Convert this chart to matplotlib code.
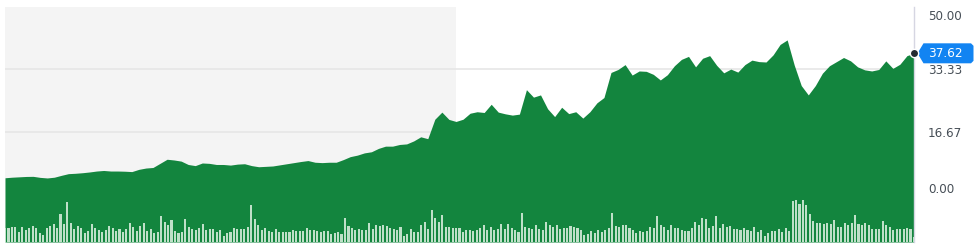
import matplotlib
matplotlib.use("Agg")
import matplotlib.pyplot as plt
import numpy as np
from matplotlib.patches import Polygon
from matplotlib.transforms import ScaledTranslation, Affine2D

# closing price, sampled every ~2 trading days
price = [
    4.35, 4.5, 4.6, 4.7, 4.73, 4.45, 4.3, 4.5, 5.0, 5.45,
    5.55, 5.7, 5.9, 6.15, 6.3, 6.15, 6.15, 6.1, 6.0, 6.6,
    6.95, 7.1, 8.2, 9.3, 9.1, 8.8, 7.9, 7.6, 8.3, 8.2,
    7.9, 7.9, 7.74, 8.0, 8.1, 7.6, 7.3, 7.4, 7.5, 7.8,
    8.1, 8.4, 8.7, 8.95, 8.5, 8.4, 8.5, 8.5, 9.2, 10.0,
    10.4, 11.0, 11.3, 12.2, 12.8, 12.8, 13.25, 13.4, 14.2, 15.3,
    14.8, 20.0, 21.9, 19.95, 19.4, 20.0, 21.6, 22.0, 21.8, 24.0,
    21.9, 21.44, 21.1, 21.36, 27.9, 25.9, 26.5, 22.8, 20.7, 23.2,
    21.5, 22.0, 20.3, 22.0, 24.38, 25.8, 32.5, 33.3, 34.6, 31.8,
    32.9, 32.8, 32.0, 30.5, 31.9, 34.3, 36.0, 36.8, 34.0, 36.3,
    37.0, 34.4, 32.4, 33.4, 32.6, 34.6, 35.8, 35.4, 35.3, 37.2,
    40.0, 41.2, 34.5, 29.0, 26.5, 29.0, 32.3, 34.3, 35.4, 36.5,
    35.6, 34.0, 33.2, 32.9, 33.3, 35.6, 33.6, 34.7, 37.0, 37.62,
]

# daily volume (millions)
volume = [
    13.7, 14.3, 15, 15.3, 10.3, 14.7, 12, 14, 16, 13.7,
    8.7, 7.3, 13.7, 16, 17.7, 14.3, 28, 18, 40.3, 18.7,
    13.3, 15.7, 14, 9.3, 11, 17.7, 14.3, 12.3, 10, 12,
    16.3, 14, 11, 13.3, 10, 13.3, 19, 15.3, 11, 16,
    19, 11, 13, 9.3, 10.3, 26.3, 20, 16.7, 22, 11.3,
    8.7, 10, 22.7, 14.7, 13, 12.3, 14.3, 17.7, 12, 13.3,
    13.3, 10, 12, 6, 9, 10.3, 13.7,
    13, 13, 13, 15.3, 37.3, 22.7, 17.3, 12, 14, 11.3,
    10.3, 13, 10, 10, 10, 10, 12, 11.3, 11.3, 11,
    14, 12, 12, 11, 10, 11, 11.3, 8.3, 9, 10,
    8, 24, 16.3, 14, 12, 13, 12, 12, 19.3, 13,
    16.7, 16.3, 17, 16, 14, 13, 12, 15.3, 6, 8,
    12.7, 10.3, 10, 16.7, 20.3, 12.7, 31.7, 24, 20, 27.3,
    15, 15.3, 14, 14, 14, 10.3,
    11.7, 11.7, 11, 11.7, 14, 17.3, 12, 15.3, 12, 13,
    17.7, 13, 17.7, 14.3, 12, 10, 29, 15, 14.3, 13,
    16.7, 12.7, 12, 19.7, 17.3, 15, 16.7, 13, 14.3, 14.3,
    15.7, 15, 14, 11.7, 7, 8, 11, 9.3, 11.7, 10,
    12.3, 14, 29, 16, 15, 17, 17, 14, 12.3, 9.3,
    10.7, 9.7, 11, 14.7, 14, 26.3, 17, 15, 12, 16.7,
    14, 14, 12, 11.3, 11,
    14, 19.7, 17, 24.3, 23, 14, 16, 26, 14.3, 18,
    15.3, 15.7, 12.7, 13, 12, 13.7, 12, 11, 15, 10,
    12, 6, 8.7, 11, 11.3, 13, 10, 14, 11, 41,
    42, 38, 42.3, 37, 28, 20.7, 19.3, 19, 18, 18.7,
    17.7, 22, 15, 15, 19, 17, 19.3, 27, 18, 17,
    19, 17, 13, 13.3, 13.3, 20.7, 17, 15, 12.3, 13,
    13, 13, 14, 13, 5,
]

tick_vals = [0, 16.67, 33.33, 50]
tick_labels = ["0.00", "16.67", "33.33", "50.00"]
shade_end = 130  # day where the shaded period stops

green = "#13853e"
bar_col = "#bfe0c8"
blue = "#1284f2"

fig = plt.figure(figsize=(9.79, 2.52), dpi=100)
ax = fig.add_axes([5 / 979, 10 / 252, 909 / 979, 235 / 252])

days = np.arange(len(volume))
pdays = np.linspace(0, len(volume) - 1, len(price))

ax.set_xlim(0, len(volume) - 1)
ax.set_ylim(-12.82, 50)
ax.axvspan(0, shade_end, color="#f4f4f4", lw=0, zorder=0)
for v in tick_vals[1:3]:
    ax.axhline(v, color="#e6e6e6", lw=1.2, zorder=0.5)
ax.fill_between(pdays, -12.82, price, color=green, lw=0, zorder=1)

# volume on its own scale along the bottom
vax = ax.twinx()
vax.bar(days, volume, width=0.6, color=bar_col, lw=0, zorder=2)
vax.set_ylim(0, 235)
vax.set_xlim(0, len(volume) - 1)
vax.set_axis_off()

# twinx moved the ticks to the left, put them back
ax.yaxis.tick_right()
ax.set_yticks(tick_vals)
ax.set_yticklabels(tick_labels)
ax.tick_params(axis="y", length=0, pad=10, labelsize=8.6, labelcolor="#464e56")
ax.set_xticks([])
for s in ["top", "left", "bottom"]:
    ax.spines[s].set_visible(False)
ax.spines["right"].set_color("#d6d6e2")
ax.spines["right"].set_linewidth(1)

# end labels are pushed inside the plot
shifts = [6, 0, 0, -8]
for lab, dy in zip(ax.get_yticklabels(), shifts):
    lab.set_transform(lab.get_transform() + ScaledTranslation(0, dy / 100, fig.dpi_scale_trans))

# last price marker + tag
last_x, last_y = pdays[-1], price[-1]
px = Affine2D().scale(1 / 100) + fig.dpi_scale_trans + ScaledTranslation(last_x, last_y, ax.transData)
tag = Polygon([(3.5, 0), (9.5, 10), (57, 10), (59.5, 7.5), (59.5, -7.5), (57, -10), (9.5, -10)],
              closed=True, fc=blue, ec="none", transform=px, clip_on=False, zorder=7)
ax.add_patch(tag)
ax.annotate(f"{last_y:.2f}", xy=(last_x, last_y), xytext=(22.7, -0.3),
            textcoords="offset points", ha="center", va="center",
            color="white", fontsize=8.7, annotation_clip=False, zorder=8)
ax.plot(last_x, last_y, "o", ms=6, mfc="#232a31", mec="white",
        mew=1, clip_on=False, zorder=9)

fig.savefig("out.png", dpi=100)
